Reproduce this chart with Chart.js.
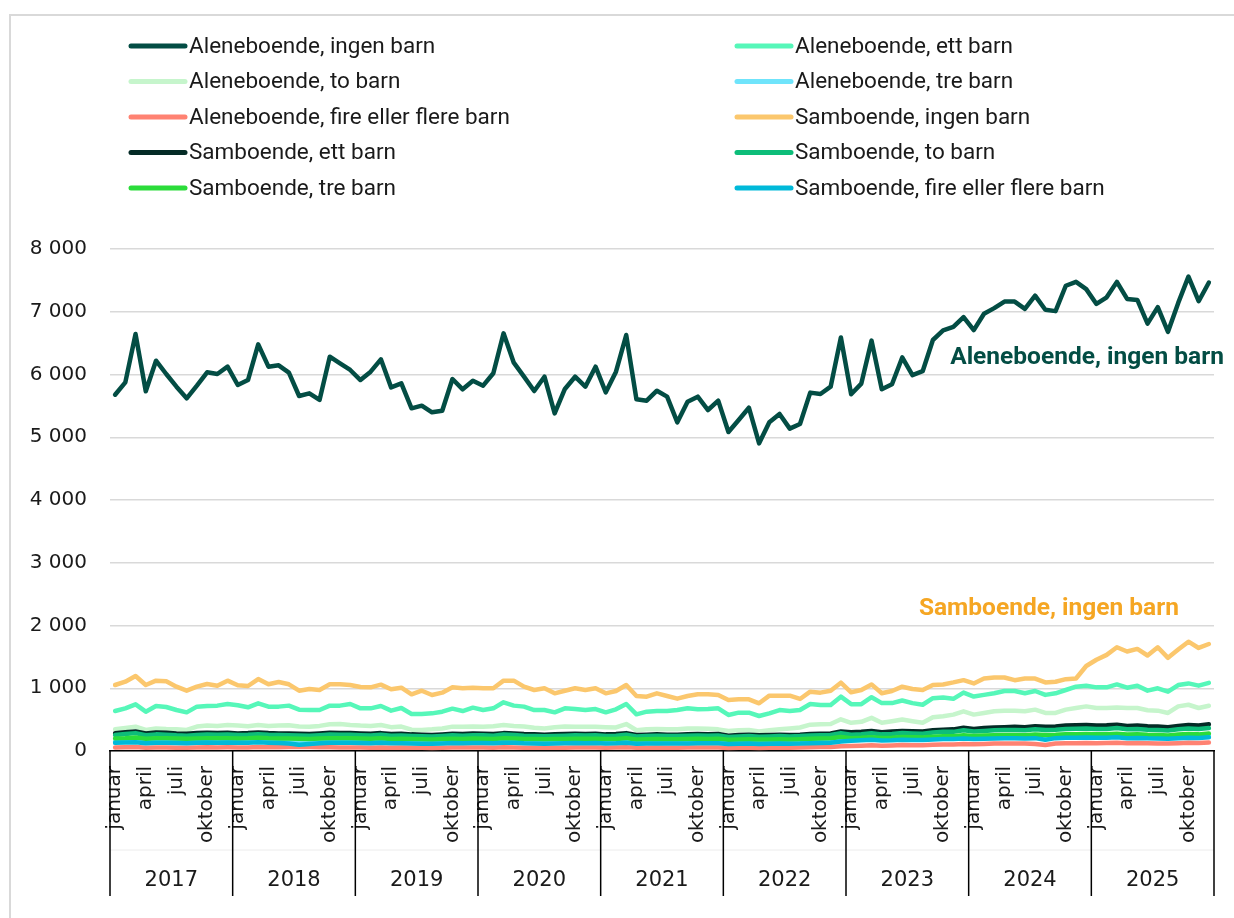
<!DOCTYPE html>
<html>
<head>
<meta charset="utf-8">
<script src="https://cdn.jsdelivr.net/npm/chart.js@4.4.1/dist/chart.umd.min.js"></script>
<style>
  html, body { margin: 0; padding: 0; background: #fff; }
  #wrap { position: relative; width: 1234px; height: 918px; }
</style>
</head>
<body>
<div id="wrap"><canvas id="chart"></canvas></div>
<script>
// Kategorier: ett punkt per måned, 2017-2025
const years = ['2017', '2018', '2019', '2020', '2021', '2022', '2023', '2024', '2025'];
const months = ['januar', 'februar', 'mars', 'april', 'mai', 'juni', 'juli', 'august', 'september', 'oktober', 'november', 'desember'];
const shownMonths = ['januar', 'april', 'juli', 'oktober'];
const yTicks = [0, 1000, 2000, 3000, 4000, 5000, 6000, 7000, 8000];

const seriesNames = [
  'Aleneboende, ingen barn', 'Aleneboende, ett barn',
  'Aleneboende, to barn', 'Aleneboende, tre barn',
  'Aleneboende, fire eller flere barn', 'Samboende, ingen barn',
  'Samboende, ett barn', 'Samboende, to barn',
  'Samboende, tre barn', 'Samboende, fire eller flere barn'
];
const seriesColors = ['#034d44', '#56f7b9', '#c6f5cc', '#6fe4fb', '#ff8272', '#fbc76d', '#042b26', '#0dbd79', '#2bdc3a', '#00b9d9'];

const aleneIngen = [
  5678, 5875, 6645, 5732, 6220, 6008, 5806, 5620, 5822, 6035, 6008, 6125,
  5833, 5912, 6481, 6125, 6146, 6030, 5657, 5700, 5594, 6284, 6178, 6072,
  5912, 6045, 6242, 5795, 5859, 5461, 5503, 5397, 5423, 5928, 5764, 5901,
  5822, 6019, 6656, 6189, 5965, 5737, 5965, 5381, 5769, 5965, 5806, 6125,
  5716, 6045, 6629, 5604, 5583, 5742, 5647, 5238, 5567, 5647, 5434, 5583,
  5083, 5275, 5471, 4903, 5238, 5371, 5137, 5211, 5711, 5689, 5806, 6590,
  5686, 5855, 6540, 5766, 5844, 6272, 5990, 6053, 6550, 6703, 6759, 6916,
  6708, 6969, 7058, 7162, 7162, 7047, 7256, 7031, 7010, 7414, 7476, 7361,
  7125, 7230, 7476, 7205, 7189, 6811, 7074, 6680, 7141, 7560, 7168, 7466
];
const aleneEtt = [
  637, 680, 744, 627, 717, 701, 653, 616, 707, 717, 723, 749,
  728, 696, 760, 707, 707, 723, 659, 653, 653, 723, 723, 749,
  680, 680, 717, 643, 685, 590, 590, 600, 627, 675, 637, 691,
  653, 680, 776, 723, 707, 653, 653, 616, 680, 669, 653, 669,
  616, 664, 749, 584, 627, 637, 637, 653, 680, 664, 669, 680,
  574, 611, 611, 558, 600, 653, 637, 653, 749, 733, 733, 866,
  747, 747, 857, 763, 763, 805, 763, 737, 841, 852, 831, 931,
  868, 894, 920, 956, 956, 920, 956, 894, 920, 972, 1025, 1041,
  1014, 1014, 1061, 1009, 1041, 962, 999, 946, 1051, 1077, 1041, 1087
];
const aleneTo = [
  345, 365, 388, 335, 360, 350, 345, 335, 390, 405, 400, 414,
  405, 395, 414, 400, 405, 410, 390, 388, 400, 425, 430, 415,
  405, 400, 414, 380, 390, 340, 335, 345, 360, 388, 385, 390,
  388, 395, 414, 400, 390, 370, 360, 380, 390, 388, 385, 388,
  380, 375, 430, 330, 345, 350, 345, 345, 360, 360, 355, 345,
  320, 330, 335, 310, 330, 345, 360, 375, 420, 425, 430, 505,
  449, 465, 528, 449, 475, 502, 475, 449, 538, 555, 580, 632,
  580, 606, 632, 643, 643, 632, 659, 606, 606, 659, 685, 711,
  685, 685, 695, 685, 685, 650, 643, 606, 711, 737, 685, 722
];
const aleneTre = [
  150, 155, 160, 148, 152, 150, 147, 145, 150, 155, 153, 156,
  152, 150, 158, 152, 150, 148, 145, 143, 148, 154, 152, 152,
  150, 146, 152, 143, 146, 140, 137, 135, 140, 146, 143, 148,
  146, 143, 153, 150, 143, 140, 137, 140, 143, 147, 144, 147,
  140, 143, 153, 135, 139, 141, 139, 138, 140, 144, 142, 144,
  132, 135, 138, 133, 135, 138, 135, 138, 145, 148, 150, 170,
  175, 180, 190, 178, 182, 190, 186, 184, 195, 200, 200, 210,
  205, 212, 225, 218, 218, 215, 212, 210, 215, 222, 225, 228,
  222, 225, 232, 218, 222, 215, 212, 208, 220, 228, 222, 232
];
const aleneFire = [
  55, 58, 62, 52, 56, 55, 53, 52, 55, 58, 57, 58,
  56, 57, 62, 58, 60, 62, 68, 65, 60, 58, 57, 57,
  55, 53, 57, 52, 54, 51, 50, 49, 52, 55, 54, 56,
  55, 53, 58, 57, 53, 52, 50, 52, 53, 56, 54, 56,
  52, 54, 58, 50, 52, 54, 52, 52, 54, 56, 55, 56,
  48, 50, 52, 49, 52, 54, 52, 55, 60, 62, 65, 75,
  80, 85, 90, 84, 88, 95, 92, 90, 98, 102, 103, 110,
  108, 112, 118, 120, 120, 118, 112, 95, 118, 122, 125, 128,
  125, 127, 132, 124, 126, 122, 120, 118, 125, 132, 128, 135
];
const sambIngen = [
  1052, 1105, 1195, 1052, 1121, 1110, 1025, 961, 1025, 1068, 1041, 1121,
  1047, 1036, 1147, 1063, 1100, 1063, 961, 988, 972, 1063, 1063, 1052,
  1020, 1015, 1057, 983, 1009, 903, 961, 892, 930, 1015, 999, 1009,
  999, 999, 1121, 1121, 1025, 972, 999, 919, 961, 999, 972, 999,
  919, 956, 1052, 876, 866, 919, 876, 834, 876, 903, 903, 892,
  813, 823, 823, 760, 882, 882, 882, 829, 945, 930, 961, 1089,
  936, 972, 1061, 920, 956, 1025, 988, 972, 1051, 1061, 1093, 1129,
  1077, 1155, 1171, 1171, 1129, 1155, 1155, 1093, 1103, 1145, 1155, 1355,
  1454, 1532, 1653, 1585, 1627, 1522, 1653, 1485, 1616, 1742, 1642, 1705
];
const sambEtt = [
  285, 300, 310, 280, 295, 290, 280, 275, 285, 290, 285, 290,
  280, 285, 295, 285, 280, 280, 275, 270, 280, 290, 285, 285,
  280, 275, 285, 270, 275, 265, 260, 255, 265, 275, 270, 280,
  275, 270, 285, 280, 270, 265, 260, 265, 270, 275, 270, 275,
  265, 270, 285, 255, 260, 265, 260, 260, 265, 270, 268, 270,
  245, 255, 260, 250, 255, 260, 255, 260, 270, 275, 280, 310,
  300, 305, 320, 300, 310, 320, 315, 310, 330, 340, 345, 370,
  350, 365, 375, 380, 385, 380, 395, 385, 390, 405, 410, 415,
  405, 410, 420, 400, 405, 395, 390, 380, 400, 415, 405, 425
];
const sambTo = [
  255, 270, 285, 250, 265, 260, 250, 245, 255, 262, 258, 262,
  255, 258, 268, 258, 255, 252, 248, 245, 252, 262, 258, 258,
  252, 248, 258, 245, 248, 240, 235, 232, 240, 250, 245, 252,
  250, 245, 262, 255, 245, 240, 235, 240, 245, 250, 246, 250,
  240, 245, 260, 232, 238, 242, 238, 238, 242, 246, 244, 246,
  225, 232, 238, 228, 232, 238, 232, 238, 248, 252, 255, 285,
  260, 268, 282, 265, 272, 285, 280, 275, 295, 305, 305, 330,
  310, 320, 330, 335, 335, 330, 345, 335, 340, 350, 355, 360,
  350, 352, 365, 345, 350, 340, 335, 325, 345, 360, 350, 365
];
const sambTre = [
  200, 205, 215, 195, 205, 202, 198, 195, 200, 205, 203, 205,
  200, 202, 210, 202, 200, 198, 195, 192, 198, 205, 202, 202,
  198, 195, 202, 192, 195, 190, 186, 184, 190, 196, 193, 198,
  196, 193, 205, 200, 193, 190, 186, 190, 193, 197, 194, 197,
  190, 193, 205, 184, 188, 191, 188, 188, 191, 194, 193, 194,
  180, 184, 188, 182, 185, 189, 185, 189, 196, 199, 202, 222,
  205, 210, 220, 208, 213, 222, 218, 215, 228, 235, 236, 252,
  240, 246, 252, 255, 255, 252, 262, 255, 258, 265, 268, 272,
  265, 267, 275, 262, 265, 258, 255, 248, 262, 272, 265, 278
];
const sambFire = [
  130, 135, 140, 125, 133, 130, 127, 125, 130, 134, 132, 134,
  130, 132, 138, 132, 128, 120, 98, 110, 125, 132, 130, 130,
  128, 125, 132, 122, 125, 120, 117, 115, 120, 126, 123, 128,
  126, 123, 133, 130, 123, 120, 117, 120, 123, 127, 124, 127,
  120, 123, 133, 115, 119, 121, 119, 118, 120, 124, 122, 124,
  112, 115, 118, 113, 115, 118, 115, 118, 125, 128, 130, 150,
  165, 170, 178, 168, 172, 180, 176, 174, 185, 190, 190, 200,
  192, 197, 200, 203, 203, 200, 205, 178, 205, 210, 212, 215,
  210, 212, 218, 205, 208, 202, 200, 195, 205, 213, 208, 218
];

const seriesData = [aleneIngen, aleneEtt, aleneTo, aleneTre, aleneFire, sambIngen, sambEtt, sambTo, sambTre, sambFire];

// Etiketter direkte ved linjene
const callouts = [
  { text: 'Aleneboende, ingen barn', series: 0, value: 6260, shift: 15, color: '#034d44' },
  { text: 'Samboende, ingen barn', series: 5, value: 2265, shift: -30, color: '#f5a623' }
];

const FONT = 'Roboto';
const AXIS_FONT = '"DejaVu Sans"';
const labels = [];
years.forEach(y => months.forEach(m => labels.push(m + ' ' + y)));

function fmt(v) {
  return String(v).replace(/\B(?=(\d{3})+(?!\d))/g, ' ');
}

// Ramme rundt hele figuren
const framePlugin = {
  id: 'frame',
  beforeDraw(chart) {
    const ctx = chart.ctx;
    ctx.save();
    ctx.strokeStyle = '#d9d9d9';
    ctx.lineWidth = 2;
    ctx.strokeRect(10, 15, 1400, 1000);
    ctx.restore();
  }
};

// Forklaring i to kolonner
const legendPlugin = {
  id: 'twoColLegend',
  afterDraw(chart) {
    const ctx = chart.ctx;
    ctx.save();
    ctx.font = '22.5px ' + FONT;
    ctx.textBaseline = 'middle';
    ctx.lineCap = 'round';
    chart.data.datasets.forEach((ds, i) => {
      const col = i % 2, row = Math.floor(i / 2);
      const x = col === 0 ? 131 : 737;
      const y = 46 + row * 35.5;
      ctx.strokeStyle = ds.borderColor;
      ctx.lineWidth = 5;
      ctx.beginPath();
      ctx.moveTo(x, y);
      ctx.lineTo(x + 54, y);
      ctx.stroke();
      ctx.fillStyle = '#1a1a1a';
      ctx.fillText(ds.label, x + 58, y + 1);
    });
    ctx.restore();
  }
};

// Årstall og skillelinjer under månedene
const yearAxisPlugin = {
  id: 'yearAxis',
  afterDraw(chart) {
    const xs = chart.scales.x;
    const ctx = chart.ctx;
    const half = (xs.getPixelForValue(1) - xs.getPixelForValue(0)) / 2;
    const top = chart.chartArea.bottom;
    const left = xs.getPixelForValue(0) - half;
    const right = xs.getPixelForValue(labels.length - 1) + half;
    ctx.save();
    ctx.strokeStyle = '#ececec';
    ctx.lineWidth = 1;
    ctx.beginPath();
    ctx.moveTo(left, 850);
    ctx.lineTo(right, 850);
    ctx.stroke();
    ctx.strokeStyle = '#000';
    ctx.lineWidth = 1.5;
    ctx.fillStyle = '#1a1a1a';
    ctx.font = '21px ' + AXIS_FONT;
    ctx.textAlign = 'center';
    ctx.textBaseline = 'middle';
    years.forEach((yr, k) => {
      const x0 = xs.getPixelForValue(k * 12) - half;
      const x1 = xs.getPixelForValue(k * 12 + 11) + half;
      ctx.beginPath();
      ctx.moveTo(x0, top);
      ctx.lineTo(x0, 896);
      ctx.stroke();
      if (k === years.length - 1) {
        ctx.beginPath();
        ctx.moveTo(x1, top);
        ctx.lineTo(x1, 896);
        ctx.stroke();
      }
      ctx.fillText(yr, (x0 + x1) / 2, 881);
    });
    ctx.restore();
  }
};

const calloutPlugin = {
  id: 'callouts',
  afterDatasetsDraw(chart) {
    const ctx = chart.ctx;
    const xs = chart.scales.x, ys = chart.scales.y;
    ctx.save();
    ctx.font = 'bold 24.5px ' + FONT;
    ctx.textAlign = 'right';
    ctx.textBaseline = 'middle';
    callouts.forEach(c => {
      const last = seriesData[c.series].length - 1;
      ctx.fillStyle = c.color;
      ctx.fillText(c.text, xs.getPixelForValue(last) + c.shift, ys.getPixelForValue(c.value));
    });
    ctx.restore();
  }
};

const datasets = seriesNames.map((name, i) => ({
  label: name,
  data: seriesData[i],
  borderColor: seriesColors[i],
  backgroundColor: seriesColors[i],
  borderWidth: 4.5,
  borderJoinStyle: 'round',
  borderCapStyle: 'round',
  pointRadius: 0,
  tension: 0,
  fill: false,
  order: seriesNames.length - i
}));

Chart.defaults.font.family = FONT;
Chart.defaults.color = '#1a1a1a';

new Chart(document.getElementById('chart'), {
  type: 'line',
  data: { labels: labels, datasets: datasets },
  options: {
    responsive: true,
    maintainAspectRatio: false,
    animation: false,
    devicePixelRatio: 1,
    layout: { padding: { top: 249, right: 20, left: 0, bottom: 0 } },
    plugins: {
      legend: { display: false },
      tooltip: { enabled: false }
    },
    scales: {
      x: {
        type: 'category',
        offset: true,
        grid: { display: false, drawTicks: false },
        border: { display: true, color: '#000', width: 1.5 },
        ticks: {
          autoSkip: false,
          minRotation: 90,
          maxRotation: 90,
          padding: 15,
          font: { size: 20, family: AXIS_FONT },
          color: '#1a1a1a',
          callback: function (val, idx) {
            const m = months[idx % 12];
            return shownMonths.includes(m) ? m : '';
          }
        },
        afterFit: function (scale) {
          scale.height = 167;
          scale.paddingLeft = 0;
          scale.paddingRight = 0;
        }
      },
      y: {
        min: yTicks[0],
        max: yTicks[yTicks.length - 1],
        afterBuildTicks: function (scale) {
          scale.ticks = yTicks.map(v => ({ value: v }));
        },
        grid: { color: '#d9d9d9', lineWidth: 1.5, drawTicks: false },
        border: { display: false },
        ticks: {
          padding: 23,
          font: { size: 20, family: AXIS_FONT },
          color: '#1a1a1a',
          callback: v => fmt(v)
        },
        afterFit: function (scale) { scale.width = 110; }
      }
    }
  },
  plugins: [framePlugin, legendPlugin, yearAxisPlugin, calloutPlugin]
});
</script>
</body>
</html>
